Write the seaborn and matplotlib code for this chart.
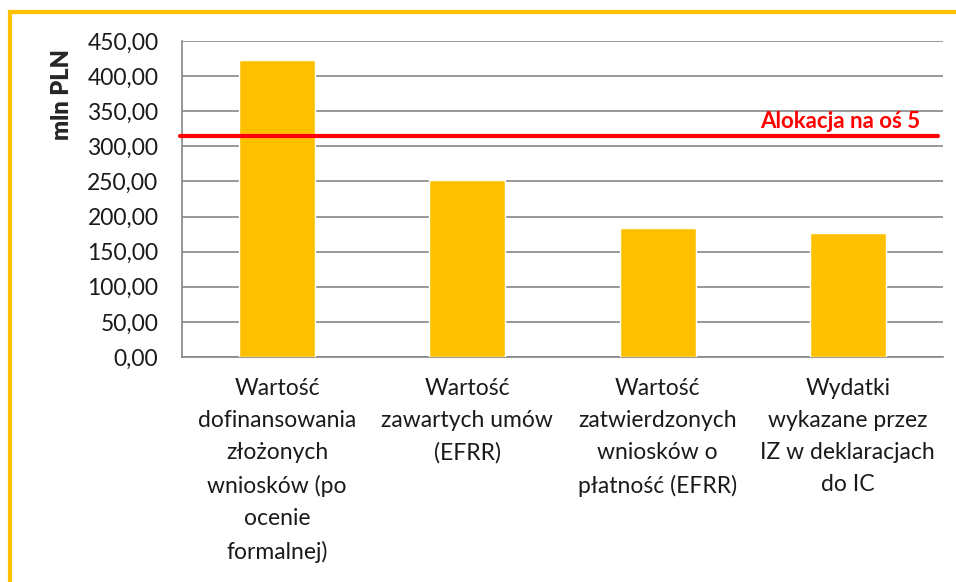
import matplotlib
matplotlib.use('Agg')
from matplotlib import pyplot as plt
from matplotlib.patches import Rectangle
from matplotlib.ticker import FuncFormatter
import pandas as pd
import seaborn as sns

# dane
kategorie = ['Wartość\ndofinansowania\nzłożonych\nwniosków (po\nocenie\nformalnej)',
             'Wartość\nzawartych umów\n(EFRR)',
             'Wartość\nzatwierdzonych\nwniosków o\npłatność (EFRR)',
             'Wydatki\nwykazane przez\nIZ w deklaracjach\ndo IC']
wartosci = [423.0, 251.5, 184.0, 177.0]
alokacja = 315.0
alokacja_label = 'Alokacja na oś 5'
y_label = 'mln PLN'

df = pd.DataFrame({'kat': kategorie, 'val': wartosci})

sns.set_style('white')
plt.rcParams['font.family'] = ['Lato', 'DejaVu Sans']

fig = plt.figure(figsize=(9.56, 5.82), dpi=100)
ax = fig.add_axes([182/956, 1 - 357/582, (943-182)/956, (357-41)/582])

sns.barplot(data=df, x='kat', y='val', color='#FFC000', width=0.4,
            saturation=1, ax=ax, zorder=3)

ax.set_ylim(0, 450)
ax.set_yticks(range(0, 451, 50))
ax.yaxis.set_major_formatter(FuncFormatter(lambda v, p: f'{v:.2f}'.replace('.', ',')))
ax.grid(axis='y', color='#868686', linewidth=1.2, zorder=0)
ax.set_axisbelow(True)

ax.set_xlim(-0.5, 3.5)
ax.set_xticks([-0.5, 0.5, 1.5, 2.5, 3.5])
ax.set_xticklabels([])
ax.set_xticks(range(4), minor=True)
ax.set_xticklabels(kategorie, minor=True, fontsize=16.5, color='#1a1a1a', linespacing=1.65)
ax.tick_params(axis='x', which='minor', length=0, pad=15)
ax.tick_params(axis='x', which='major', length=7, color='#868686', width=1.2)
ax.tick_params(axis='y', length=7, color='#868686', width=1.2, labelsize=16.5, labelcolor='#1a1a1a', pad=10)
ax.set_xlabel('')
ax.set_ylabel(y_label, fontsize=17, fontweight='heavy')
ax.yaxis.set_label_coords(-0.143, 0.83)

for s in ['top', 'right']:
    ax.spines[s].set_visible(False)
for s in ['left', 'bottom']:
    ax.spines[s].set_color('#868686')
    ax.spines[s].set_linewidth(1.2)

ax.axhline(alokacja, color='#FF0000', linewidth=3, xmin=-0.003, xmax=0.993, zorder=4, clip_on=False)
ax.text(0.97, alokacja + 6, alokacja_label, transform=ax.get_yaxis_transform(),
        ha='right', va='bottom', color='#FF0000', fontsize=16, fontweight='bold')

fig.patches.append(Rectangle((10/956, -0.05), 1.0, 1.05 - 12/582,
                             transform=fig.transFigure, fill=False,
                             edgecolor='#FFC000', linewidth=3))

fig.savefig('out.png', dpi=100)
